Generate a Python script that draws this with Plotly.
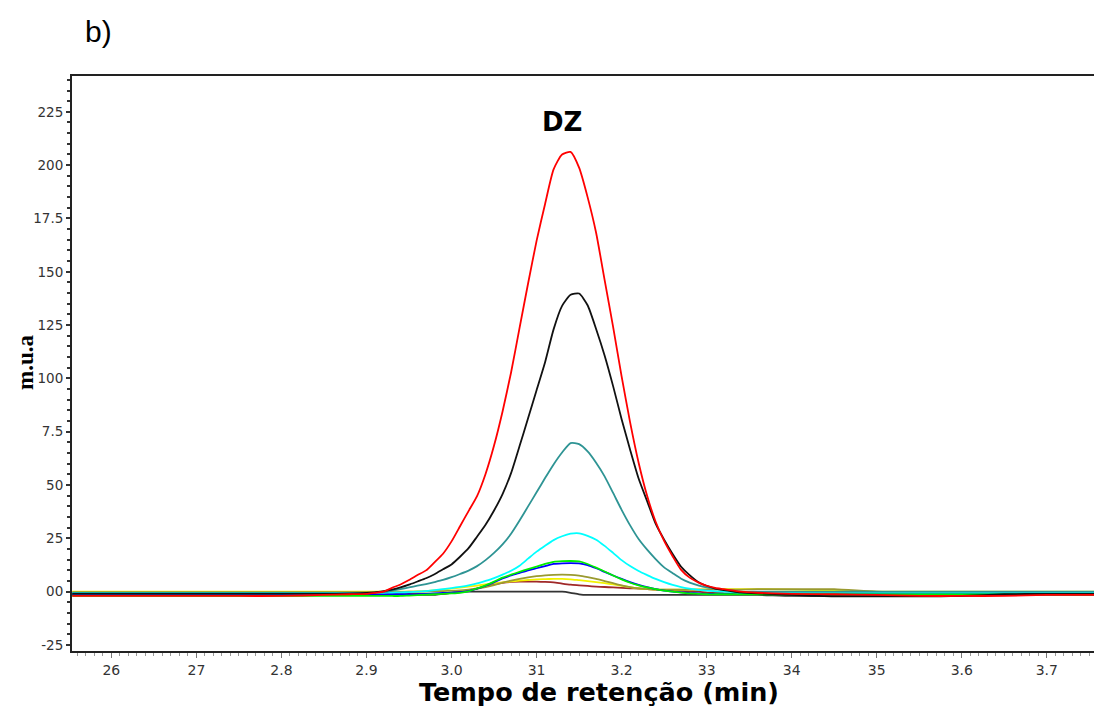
import plotly.graph_objects as go

# ---------------- data ----------------
time = [2.554, 2.60, 2.65, 2.70, 2.75, 2.80, 2.85, 2.88,
        2.90, 2.91, 2.92, 2.93, 2.94, 2.95, 2.96, 2.97, 2.98, 2.99,
        3.00, 3.01, 3.02, 3.03, 3.04, 3.05, 3.06, 3.07, 3.08, 3.09,
        3.10, 3.11, 3.12, 3.13, 3.14, 3.15, 3.16, 3.17, 3.18, 3.19,
        3.20, 3.21, 3.22, 3.23, 3.24, 3.25, 3.26, 3.27, 3.28, 3.29,
        3.30, 3.31, 3.32, 3.33, 3.34,
        3.36, 3.40, 3.45, 3.50, 3.55, 3.60, 3.65, 3.70, 3.765]

red = [-0.2, -0.2, -0.2, -0.2, -0.2, -0.2, -0.15, -0.12,
       -0.1, -0.05, 0.0, 0.18, 0.34, 0.55, 0.78, 1.0, 1.38, 1.78,
       2.36, 3.07, 3.78, 4.48, 5.52, 6.85, 8.45, 10.28, 12.37, 14.45,
       16.45, 18.18, 19.8, 20.5, 20.62, 19.88, 18.5, 16.83, 14.62, 12.42,
       10.1, 7.94, 6.05, 4.5, 3.28, 2.38, 1.66, 1.02, 0.66, 0.44,
       0.28, 0.18, 0.12, 0.06, 0.0,
       -0.05, -0.1, -0.12, -0.15, -0.2, -0.2, -0.2, -0.15, -0.15]

black = [-0.09, -0.09, -0.09, -0.09, -0.09, -0.09, -0.09, -0.08,
         -0.06, -0.03, 0.03, 0.1, 0.2, 0.33, 0.48, 0.63, 0.82, 1.05,
         1.28, 1.64, 2.04, 2.58, 3.14, 3.81, 4.58, 5.56, 6.83, 8.13,
         9.45, 10.76, 12.3, 13.4, 13.92, 13.98, 13.43, 12.32, 11.08, 9.64,
         8.09, 6.66, 5.31, 4.25, 3.19, 2.44, 1.77, 1.17, 0.78, 0.46,
         0.28, 0.15, 0.08, 0.02, -0.03,
         -0.08, -0.15, -0.22, -0.22, -0.22, -0.2, -0.12, -0.1, -0.1]

teal = [-0.09, -0.09, -0.09, -0.09, -0.09, -0.09, -0.09, -0.09,
        -0.08, -0.05, -0.02, 0.05, 0.12, 0.2, 0.28, 0.36, 0.45, 0.55,
        0.68, 0.83, 0.99, 1.2, 1.48, 1.82, 2.22, 2.72, 3.34, 4.0,
        4.66, 5.33, 5.97, 6.53, 6.97, 6.92, 6.58, 6.05, 5.41, 4.63,
        3.84, 3.11, 2.47, 1.97, 1.53, 1.14, 0.87, 0.61, 0.43, 0.3,
        0.2, 0.14, 0.09, 0.05, 0.0,
        0.0, 0.0, 0.0, 0.0, 0.0, 0.0, 0.0, 0.0, 0.0]

cyan = [-0.06, -0.06, -0.06, -0.06, -0.06, -0.06, -0.06, -0.06,
        -0.06, -0.06, -0.05, -0.04, -0.03, -0.02, 0.0, 0.03, 0.07, 0.12,
        0.17, 0.23, 0.3, 0.39, 0.51, 0.64, 0.8, 0.98, 1.22, 1.55,
        1.88, 2.16, 2.42, 2.6, 2.72, 2.74, 2.62, 2.44, 2.15, 1.82,
        1.48, 1.2, 0.97, 0.78, 0.6, 0.45, 0.32, 0.22, 0.14, 0.09,
        0.05, 0.02, 0.0, -0.02, -0.03,
        -0.03, -0.03, -0.03, -0.03, -0.03, -0.03, -0.03, -0.03, -0.03]

green = [-0.2, -0.2, -0.2, -0.2, -0.2, -0.2, -0.2, -0.2,
         -0.2, -0.2, -0.2, -0.2, -0.2, -0.18, -0.16, -0.14, -0.12, -0.1,
         -0.08, -0.05, 0.02, 0.15, 0.3, 0.47, 0.66, 0.8, 0.93, 1.06,
         1.18, 1.3, 1.4, 1.43, 1.44, 1.42, 1.3, 1.13, 0.95, 0.76,
         0.58, 0.42, 0.3, 0.2, 0.12, 0.05, 0.0, -0.04, -0.08, -0.1,
         -0.12, -0.12, -0.12, -0.12, -0.12,
         -0.12, -0.12, -0.12, -0.12, -0.12, -0.12, -0.12, -0.12, -0.12]

blue = [-0.12, -0.12, -0.12, -0.12, -0.12, -0.12, -0.12, -0.12,
        -0.12, -0.12, -0.12, -0.12, -0.12, -0.12, -0.12, -0.1, -0.08, -0.06,
        -0.04, -0.02, 0.03, 0.14, 0.28, 0.44, 0.62, 0.76, 0.88, 1.0,
        1.1, 1.2, 1.3, 1.33, 1.34, 1.33, 1.25, 1.1, 0.93, 0.76,
        0.6, 0.45, 0.32, 0.21, 0.12, 0.05, 0.0, -0.03, -0.06, -0.08,
        -0.1, -0.1, -0.1, -0.1, -0.1,
        -0.1, -0.1, -0.1, -0.1, -0.1, -0.1, -0.1, -0.1, -0.1]

olive = [-0.02, -0.02, -0.02, -0.02, -0.02, -0.02, -0.02, -0.02,
         -0.02, -0.02, -0.02, -0.02, -0.01, 0.0, 0.0, 0.01, 0.02, 0.03,
         0.04, 0.06, 0.1, 0.15, 0.22, 0.31, 0.42, 0.52, 0.6, 0.67,
         0.73, 0.77, 0.79, 0.8, 0.79, 0.75, 0.68, 0.6, 0.5, 0.4,
         0.3, 0.22, 0.16, 0.12, 0.1, 0.1, 0.1, 0.1, 0.1, 0.1,
         0.1, 0.1, 0.1, 0.1, 0.1,
         0.12, 0.12, 0.12, 0.0, -0.02, -0.02, -0.02, -0.02, -0.02]

yellow = [0.0, 0.0, 0.0, 0.0, 0.0, 0.0, 0.0, 0.0,
          0.0, 0.0, 0.0, 0.0, 0.0, 0.0, 0.01, 0.03, 0.06, 0.1,
          0.14, 0.19, 0.24, 0.29, 0.34, 0.39, 0.44, 0.48, 0.52, 0.55,
          0.58, 0.59, 0.6, 0.6, 0.58, 0.54, 0.5, 0.45, 0.4, 0.34,
          0.28, 0.22, 0.16, 0.12, 0.1, 0.1, 0.1, 0.1, 0.1, 0.11,
          0.11, 0.12, 0.12, 0.12, 0.12,
          0.12, 0.1, 0.05, 0.0, 0.0, 0.0, 0.0, 0.0, 0.0]

darkred = [-0.1, -0.1, -0.1, -0.1, -0.1, -0.1, -0.1, -0.1,
           -0.1, -0.1, -0.1, -0.1, -0.1, -0.1, -0.1, -0.1, -0.1, -0.1,
           -0.06, -0.02, 0.05, 0.15, 0.25, 0.35, 0.42, 0.46, 0.47, 0.47,
           0.47, 0.46, 0.44, 0.38, 0.33, 0.3, 0.27, 0.24, 0.22, 0.2,
           0.18, 0.16, 0.15, 0.12, 0.1, 0.08, 0.07, 0.04, 0.02, 0.0,
           -0.03, -0.05, -0.07, -0.08, -0.1,
           -0.1, -0.1, -0.1, -0.1, -0.1, -0.1, -0.1, -0.1, -0.1]

gray = [-0.15, -0.15, -0.15, -0.15, -0.15, -0.15, -0.15, -0.15,
        -0.15, -0.15, -0.15, -0.15, -0.15, -0.15, -0.15, -0.15, -0.15, -0.1,
        -0.05, 0.0, 0.0, 0.0, 0.0, 0.0, 0.0, 0.0, 0.0, 0.0,
        0.0, 0.0, 0.0, 0.0, -0.05, -0.12, -0.15, -0.15, -0.15, -0.15,
        -0.15, -0.15, -0.15, -0.15, -0.15, -0.15, -0.15, -0.15, -0.15, -0.15,
        -0.15, -0.15, -0.15, -0.15, -0.15,
        -0.15, -0.2, -0.2, -0.2, -0.2, -0.2, -0.15, -0.15, -0.15]

x_tickvals = [2.6, 2.7, 2.8, 2.9, 3.0, 3.1, 3.2, 3.3, 3.4, 3.5, 3.6, 3.7]
x_ticktext = ["26", "27", "2.8", "2.9", "3.0", "31", "3.2", "33", "34", "35", "3.6", "3.7"]
y_tickvals = [-2.5, 0, 2.5, 5, 7.5, 10, 12.5, 15, 17.5, 20, 22.5]
y_ticktext = ["-25", "00", "25", "50", "7.5", "100", "125", "150", "17.5", "200", "225"]

# ---------------- figure ----------------
series = [
    (gray, "#333333"),
    (darkred, "#a02828"),
    (yellow, "#f2f200"),
    (olive, "#9a9a30"),
    (blue, "#0000ff"),
    (green, "#00ee00"),
    (cyan, "#00ffff"),
    (teal, "#2e9494"),
    (black, "#111111"),
    (red, "#ff0000"),
]

fig = go.Figure()
for vals, col in series:
    fig.add_trace(go.Scatter(x=time, y=vals, mode="lines",
                             line=dict(color=col, width=1.8, shape="spline", smoothing=0.6),
                             hoverinfo="skip"))

# page body has an 8px margin: figure origin sits at (8, 8) of the window
OFF = 8
W, H = 1102 - OFF, 710 - OFF
L, R, T = 72 - OFF, 0, 76 - OFF
B = H - (651 - OFF)
pw, ph = W - L - R, H - T - B

def px(x):
    return (x - OFF - L) / pw

def py(y):
    return (H - B - (y - OFF)) / ph

fig.update_layout(
    width=W, height=H,
    margin=dict(l=L, r=R, t=T, b=B),
    plot_bgcolor="white", paper_bgcolor="white",
    showlegend=False,
    xaxis=dict(range=[2.5537, 3.7649], tickvals=x_tickvals, ticktext=x_ticktext,
               ticks="outside", ticklen=5, tickwidth=1, tickcolor="#777",
               showline=True, linecolor="#222", linewidth=2, mirror=True,
               showgrid=False, zeroline=False,
               tickfont=dict(family="DejaVu Sans", size=14, color="#333"),
               minor=dict(dtick=0.01, tick0=2.6, ticks="outside", ticklen=3,
                          tickcolor="#999", tickwidth=1, showgrid=False)),
    yaxis=dict(range=[-2.78, 24.18], tickvals=y_tickvals, ticktext=y_ticktext,
               ticks="outside", ticklen=4, tickwidth=1.5, tickcolor="#333",
               showline=True, linecolor="#222", linewidth=2,
               showgrid=False, zeroline=False,
               tickfont=dict(family="DejaVu Sans", size=13.5, color="#333"),
               minor=dict(dtick=0.5, tick0=0, ticks="outside", ticklen=3,
                          tickcolor="#333", tickwidth=1.5, showgrid=False)),
    annotations=[
        dict(text="b)", xref="paper", yref="paper", x=px(83), y=py(31),
             xanchor="left", yanchor="middle", showarrow=False,
             font=dict(family="Liberation Sans", size=30, color="black")),
        dict(text="<b>DZ</b>", xref="paper", yref="paper", x=px(562), y=py(122),
             xanchor="center", yanchor="middle", showarrow=False,
             font=dict(family="DejaVu Sans", size=26, color="black")),
        dict(text="<b>m.u.a</b>", xref="paper", yref="paper", x=px(25), y=py(363),
             xanchor="center", yanchor="middle", showarrow=False, textangle=-90,
             font=dict(family="Liberation Serif", size=23, color="black")),
        dict(text="<b>Tempo de retenção (min)</b>", xref="paper", yref="paper",
             x=px(599), y=py(692), xanchor="center", yanchor="middle", showarrow=False,
             font=dict(family="DejaVu Sans", size=25.5, color="black")),
    ],
)

fig.write_html("out.html")
